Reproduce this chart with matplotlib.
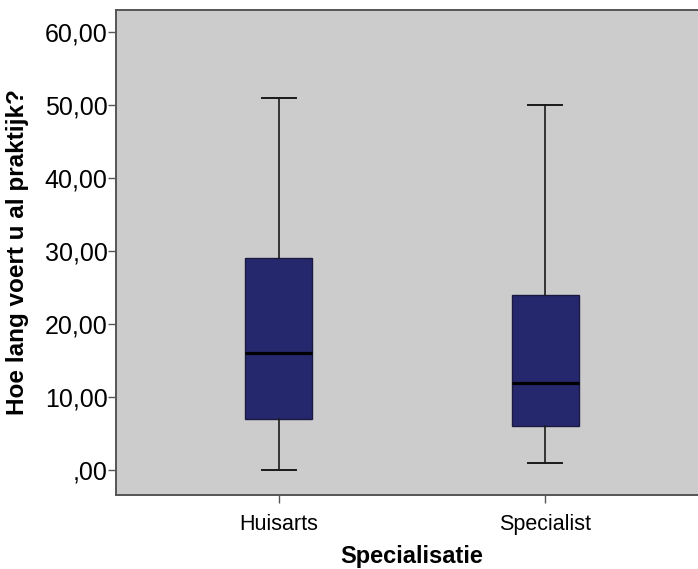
import matplotlib
matplotlib.use("Agg")
import matplotlib.pyplot as plt

plt.rcParams['font.family'] = ['Liberation Sans', 'DejaVu Sans']

# boxplot summary per group (years in practice)
groups = ["Huisarts", "Specialist"]
whisker_low = [0, 1]
q1 = [7, 6]
median = [16, 12]
q3 = [29, 24]
whisker_high = [51, 50]

ytick_vals = [0, 10, 20, 30, 40, 50, 60]
ytick_labels = [",00", "10,00", "20,00", "30,00", "40,00", "50,00", "60,00"]

stats = []
for i, g in enumerate(groups):
    stats.append(dict(label=g, whislo=whisker_low[i], q1=q1[i], med=median[i],
                      q3=q3[i], whishi=whisker_high[i], fliers=[]))

fig = plt.figure(figsize=(6.98, 5.69), dpi=100)
ax = fig.add_axes([116/698, 74/569, 592/698, 485/569])
ax.set_facecolor("#cccccc")

ax.bxp(stats, positions=[1, 2], widths=0.25, patch_artist=True,
       showfliers=False,
       boxprops=dict(facecolor="#26286e", edgecolor="#1a1a40", linewidth=1.0),
       medianprops=dict(color="black", linewidth=2.3),
       whiskerprops=dict(color="#1a1a1a", linewidth=1.2),
       capprops=dict(color="#1a1a1a", linewidth=1.4),
       capwidths=0.128)

ax.set_xlim(0.389, 2.611)
ax.set_ylim(-3.4, 63.0)
ax.set_yticks(ytick_vals)
ax.set_yticklabels(ytick_labels, fontsize=18)
ax.set_xticks([1, 2])
ax.set_xticklabels(groups, fontsize=15.5)

for s in ["left", "bottom", "top"]:
    ax.spines[s].set_color("#555555")
    ax.spines[s].set_linewidth(1.4)
ax.spines["right"].set_visible(False)
ax.tick_params(axis="both", direction="out", length=6, color="#555555", width=1)
ax.tick_params(axis="y", pad=0)
ax.tick_params(axis="x", pad=8)

ax.set_xlabel("Specialisatie", fontsize=17, fontweight="bold")
ax.set_ylabel("Hoe lang voert u al praktijk?", fontsize=17.5, fontweight="bold")
ax.xaxis.set_label_coords((411.5 - 116) / 592, (495 - 556) / 485)
ax.yaxis.set_label_coords((18 - 116) / 592, 0.5)
ax.xaxis.label.set_verticalalignment("center")
ax.yaxis.label.set_verticalalignment("center")

fig.savefig("out.png", dpi=100)
